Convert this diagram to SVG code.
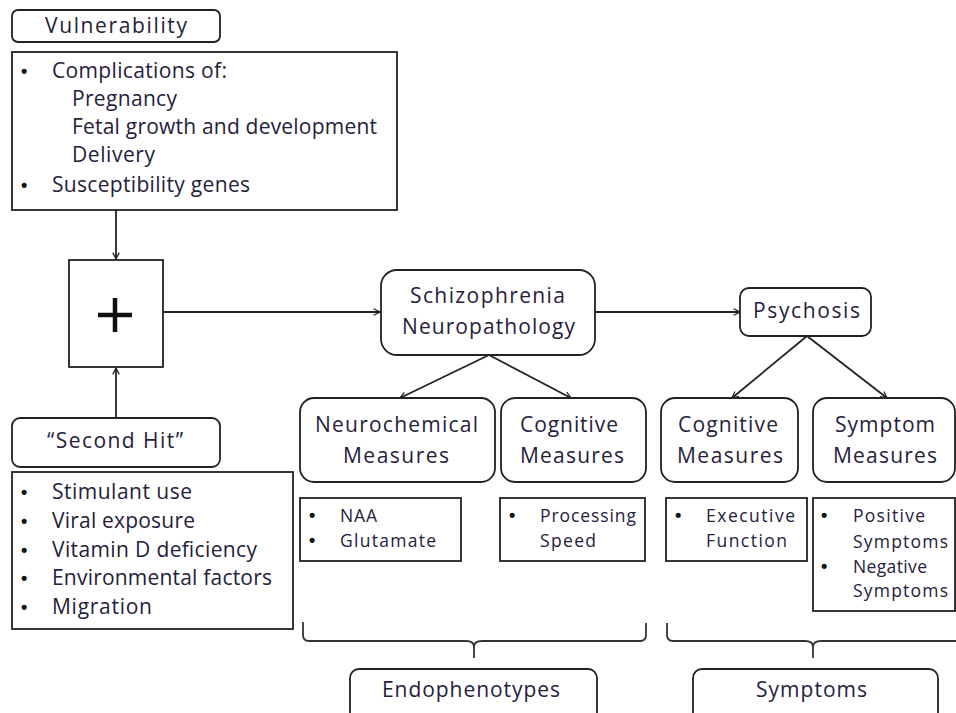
<svg xmlns="http://www.w3.org/2000/svg" width="956" height="713" viewBox="0 0 956 713">
<style>
.box{fill:#fff;stroke:#222;stroke-width:1.8}
.t{font-family:"Open Sans","Liberation Sans",Arial,sans-serif;font-size:21px;fill:#26203c}
.s{font-family:"Open Sans","Liberation Sans",Arial,sans-serif;font-size:17.5px;fill:#26203c}
.b{font-family:"Liberation Sans",Arial,sans-serif;font-weight:bold;font-size:18px;fill:#111}
.con{fill:none;stroke:#222;stroke-width:1.8}
.brace{fill:none;stroke:#333;stroke-width:1.8}
</style>
<defs>
<marker id="arr" viewBox="0 0 10 10" refX="9" refY="5" markerWidth="8" markerHeight="8" markerUnits="userSpaceOnUse" orient="auto">
<path d="M1,1 L9,5 L1,9" fill="none" stroke="#222" stroke-width="1.6"/>
</marker>
</defs>
<rect width="956" height="713" fill="#fff"/>

<g id="connectors">
<line class="con" x1="116" y1="210" x2="116" y2="259" marker-end="url(#arr)"/>
<line class="con" x1="116" y1="418" x2="116" y2="368" marker-end="url(#arr)"/>
<line class="con" x1="163" y1="312" x2="380" y2="312" marker-end="url(#arr)"/>
<line class="con" x1="595" y1="312" x2="740" y2="312" marker-end="url(#arr)"/>
<line class="con" x1="489" y1="355" x2="400" y2="398" marker-end="url(#arr)"/>
<line class="con" x1="489" y1="355" x2="571" y2="398" marker-end="url(#arr)"/>
<line class="con" x1="807" y1="336" x2="732" y2="398" marker-end="url(#arr)"/>
<line class="con" x1="807" y1="336" x2="887" y2="398" marker-end="url(#arr)"/>
<path class="brace" d="M303,622 L303,635 Q303,641 309,641 L466,641 Q474,641 474,647 Q474,641 482,641 L640,641 Q646,641 646,635 L646,623 M474,646 L474,658"/>
<path class="brace" d="M667,623 L667,635 Q667,641 673,641 L805,641 Q813,641 813,647 Q813,641 821,641 L958,641 M813,646 L813,658"/>
</g>

<g id="vulnerability">
<rect class="box" x="12" y="10" width="208" height="32" rx="6"/>
<text class="t" x="45" y="33" textLength="142">Vulnerability</text>
</g>

<g id="vulnerability-list">
<rect class="box" x="12" y="52" width="385" height="158"/>
<text class="b" x="21" y="77">•</text>
<text class="t" x="52" y="78" textLength="175">Complications of:</text>
<text class="t" x="72" y="106" textLength="105">Pregnancy</text>
<text class="t" x="72" y="134" textLength="305">Fetal growth and development</text>
<text class="t" x="72" y="162" textLength="83">Delivery</text>
<text class="b" x="21" y="191">•</text>
<text class="t" x="52" y="192" textLength="198">Susceptibility genes</text>
</g>

<g id="plus">
<rect class="box" x="69" y="260" width="94" height="107"/>
<path d="M98,315 H132 M115,298 V332" stroke="#111" stroke-width="4.5" fill="none"/>
</g>

<g id="second-hit">
<rect class="box" x="12" y="418" width="208" height="49" rx="8"/>
<text class="t" x="47" y="448" textLength="136">“Second Hit”</text>
</g>

<g id="second-hit-list">
<rect class="box" x="12" y="472" width="281" height="157"/>
<text class="b" x="21" y="498">•</text>
<text class="t" x="52" y="499" textLength="140">Stimulant use</text>
<text class="b" x="21" y="527">•</text>
<text class="t" x="52" y="528" textLength="143">Viral exposure</text>
<text class="b" x="21" y="556">•</text>
<text class="t" x="52" y="557" textLength="205">Vitamin D deficiency</text>
<text class="b" x="21" y="584">•</text>
<text class="t" x="52" y="585" textLength="220">Environmental factors</text>
<text class="b" x="21" y="613">•</text>
<text class="t" x="52" y="614" textLength="100">Migration</text>
</g>

<g id="schizophrenia">
<rect class="box" x="381" y="270" width="214" height="85" rx="16"/>
<text class="t" x="410" y="303" textLength="155">Schizophrenia</text>
<text class="t" x="402" y="334" textLength="173">Neuropathology</text>
</g>

<g id="psychosis">
<rect class="box" x="740" y="288" width="131" height="48" rx="9"/>
<text class="t" x="753" y="318" textLength="107">Psychosis</text>
</g>

<g id="neurochemical">
<rect class="box" x="300" y="398" width="195" height="84" rx="14"/>
<text class="t" x="315" y="432" textLength="163">Neurochemical</text>
<text class="t" x="343" y="463" textLength="106">Measures</text>
</g>

<g id="cognitive1">
<rect class="box" x="501" y="398" width="145" height="84" rx="14"/>
<text class="t" x="520" y="432" textLength="98">Cognitive</text>
<text class="t" x="520" y="463" textLength="104">Measures</text>
</g>

<g id="cognitive2">
<rect class="box" x="661" y="398" width="137" height="84" rx="14"/>
<text class="t" x="678" y="432" textLength="100">Cognitive</text>
<text class="t" x="677" y="463" textLength="106">Measures</text>
</g>

<g id="symptom-measures">
<rect class="box" x="813" y="398" width="142" height="84" rx="14"/>
<text class="t" x="835" y="432" textLength="100">Symptom</text>
<text class="t" x="833" y="463" textLength="104">Measures</text>
</g>

<g id="naa">
<rect class="box" x="300" y="498" width="161" height="63"/>
<text class="b" x="309" y="521">•</text>
<text class="s" x="340" y="522" textLength="37">NAA</text>
<text class="b" x="309" y="546">•</text>
<text class="s" x="340" y="547" textLength="96">Glutamate</text>
</g>

<g id="processing">
<rect class="box" x="500" y="498" width="145" height="63"/>
<text class="b" x="509" y="521">•</text>
<text class="s" x="540" y="522" textLength="96">Processing</text>
<text class="s" x="540" y="547" textLength="56">Speed</text>
</g>

<g id="executive">
<rect class="box" x="666" y="498" width="141" height="63"/>
<text class="b" x="675" y="521">•</text>
<text class="s" x="706" y="522" textLength="89">Executive</text>
<text class="s" x="706" y="547" textLength="81">Function</text>
</g>

<g id="positive">
<rect class="box" x="813" y="498" width="142" height="113"/>
<text class="b" x="821" y="521">•</text>
<text class="s" x="853" y="522" textLength="72">Positive</text>
<text class="s" x="853" y="548" textLength="95">Symptoms</text>
<text class="b" x="821" y="572">•</text>
<text class="s" x="853" y="573" textLength="74">Negative</text>
<text class="s" x="853" y="597" textLength="95">Symptoms</text>
</g>

<g id="endophenotypes">
<rect class="box" x="350" y="669" width="247" height="60" rx="9"/>
<text class="t" x="382" y="697" textLength="178">Endophenotypes</text>
</g>

<g id="symptoms">
<rect class="box" x="693" y="669" width="245" height="60" rx="9"/>
<text class="t" x="756" y="697" textLength="111">Symptoms</text>
</g>
</svg>
